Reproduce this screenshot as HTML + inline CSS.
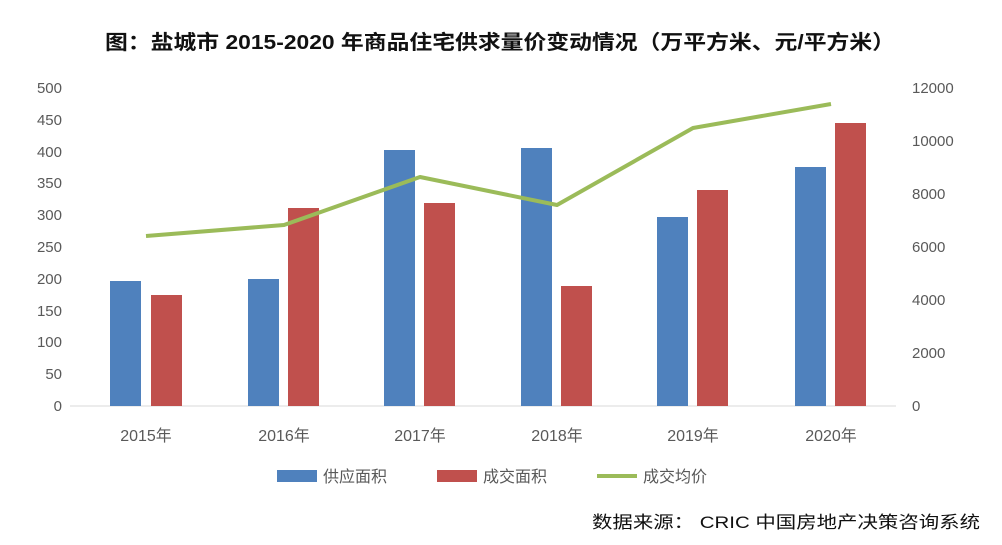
<!DOCTYPE html>
<html><head><meta charset="utf-8"><style>body{margin:0;background:#fff}</style></head><body>
<svg width="1002" height="540" xmlns="http://www.w3.org/2000/svg" font-family="Liberation Sans, Noto Sans CJK SC, sans-serif">
<rect width="1002" height="540" fill="#fff"/>
<text x="105" y="49" textLength="790" lengthAdjust="spacingAndGlyphs" font-size="20" font-weight="bold" fill="#111">图：盐城市 2015-2020 年商品住宅供求量价变动情况（万平方米、元/平方米）</text>
<g font-size="15" fill="#595959" text-anchor="end">
<text x="62" y="93">500</text><text x="62" y="125">450</text><text x="62" y="157">400</text><text x="62" y="188">350</text><text x="62" y="220">300</text><text x="62" y="252">250</text><text x="62" y="284">200</text><text x="62" y="316">150</text><text x="62" y="347">100</text><text x="62" y="379">50</text><text x="62" y="411">0</text>
</g>
<g font-size="15" fill="#595959" text-anchor="start">
<text x="912" y="93">12000</text><text x="912" y="146">10000</text><text x="912" y="199">8000</text><text x="912" y="252">6000</text><text x="912" y="305">4000</text><text x="912" y="358">2000</text><text x="912" y="411">0</text>
</g>
<line x1="70" y1="406" x2="896" y2="406" stroke="#d9d9d9" stroke-width="1"/>
<g fill="#4f81bd">
<rect x="110" y="281" width="31" height="125"/>
<rect x="248" y="279" width="31" height="127"/>
<rect x="384" y="150" width="31" height="256"/>
<rect x="521" y="148" width="31" height="258"/>
<rect x="657" y="217" width="31" height="189"/>
<rect x="795" y="167" width="31" height="239"/>
</g>
<g fill="#c0504d">
<rect x="151" y="295" width="31" height="111"/>
<rect x="288" y="208" width="31" height="198"/>
<rect x="424" y="203" width="31" height="203"/>
<rect x="561" y="286" width="31" height="120"/>
<rect x="697" y="190" width="31" height="216"/>
<rect x="835" y="123" width="31" height="283"/>
</g>
<polyline points="146,236 284,225 420,177 557,205 693,128 831,104" fill="none" stroke="#9bbb59" stroke-width="4" stroke-linejoin="round"/>
<g font-size="16" fill="#595959" text-anchor="middle">
<text x="146" y="441">2015年</text><text x="284" y="441">2016年</text><text x="420" y="441">2017年</text><text x="557" y="441">2018年</text><text x="693" y="441">2019年</text><text x="831" y="441">2020年</text>
</g>
<rect x="277" y="470" width="40" height="12" fill="#4f81bd"/>
<text x="323" y="482" font-size="16" fill="#595959">供应面积</text>
<rect x="437" y="470" width="40" height="12" fill="#c0504d"/>
<text x="483" y="482" font-size="16" fill="#595959">成交面积</text>
<line x1="597" y1="476" x2="637" y2="476" stroke="#9bbb59" stroke-width="4"/>
<text x="643" y="482" font-size="16" fill="#595959">成交均价</text>
<text x="592" y="528" textLength="388" lengthAdjust="spacingAndGlyphs" font-size="17" fill="#111">数据来源： CRIC 中国房地产决策咨询系统</text>
</svg>
</body></html>
